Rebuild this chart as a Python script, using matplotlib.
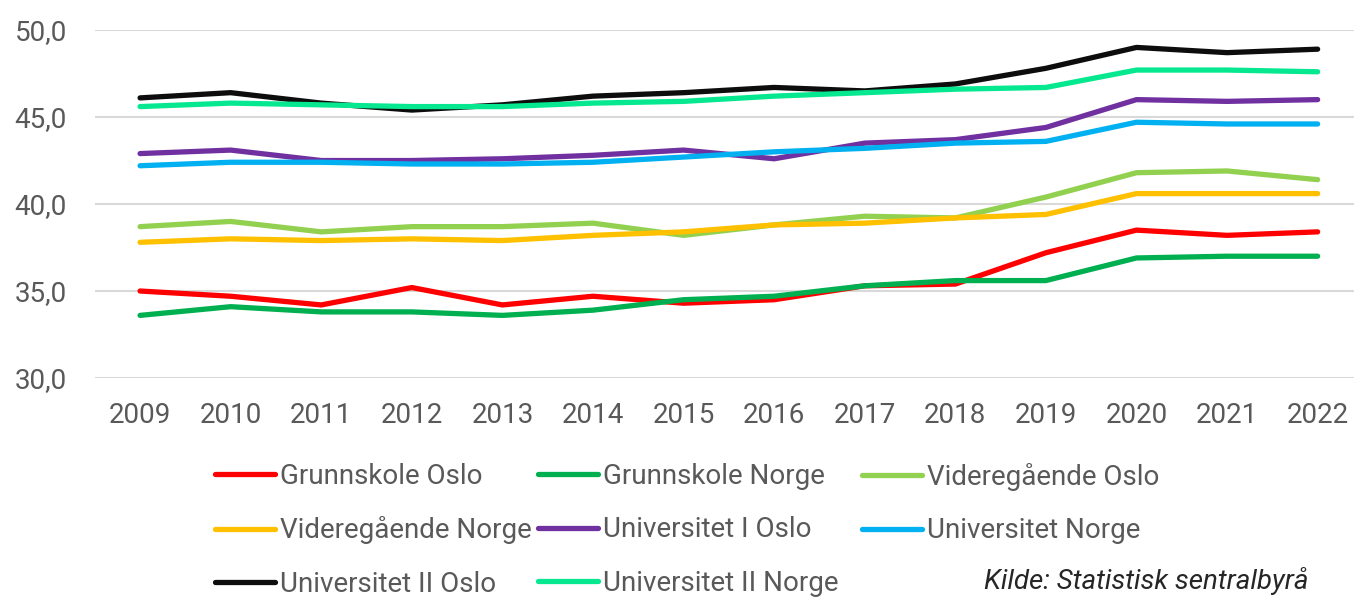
import matplotlib
matplotlib.use('Agg')
import matplotlib.pyplot as plt
from matplotlib.ticker import FuncFormatter

# Data
years = [2009, 2010, 2011, 2012, 2013, 2014, 2015, 2016, 2017, 2018, 2019, 2020, 2021, 2022]
grunnskole_oslo = [35.0, 34.7, 34.2, 35.2, 34.2, 34.7, 34.3, 34.5, 35.3, 35.4, 37.2, 38.5, 38.2, 38.4]
grunnskole_norge = [33.6, 34.1, 33.8, 33.8, 33.6, 33.9, 34.5, 34.7, 35.3, 35.6, 35.6, 36.9, 37.0, 37.0]
vgs_oslo = [38.7, 39.0, 38.4, 38.7, 38.7, 38.9, 38.2, 38.8, 39.3, 39.2, 40.4, 41.8, 41.9, 41.4]
vgs_norge = [37.8, 38.0, 37.9, 38.0, 37.9, 38.2, 38.4, 38.8, 38.9, 39.2, 39.4, 40.6, 40.6, 40.6]
univ1_oslo = [42.9, 43.1, 42.5, 42.5, 42.6, 42.8, 43.1, 42.6, 43.5, 43.7, 44.4, 46.0, 45.9, 46.0]
univ_norge = [42.2, 42.4, 42.4, 42.3, 42.3, 42.4, 42.7, 43.0, 43.2, 43.5, 43.6, 44.7, 44.6, 44.6]
univ2_oslo = [46.1, 46.4, 45.8, 45.4, 45.7, 46.2, 46.4, 46.7, 46.5, 46.9, 47.8, 49.0, 48.7, 48.9]
univ2_norge = [45.6, 45.8, 45.7, 45.6, 45.6, 45.8, 45.9, 46.2, 46.4, 46.6, 46.7, 47.7, 47.7, 47.6]

series = [
    ('Grunnskole Oslo', grunnskole_oslo, '#FF0000'),
    ('Grunnskole Norge', grunnskole_norge, '#00B050'),
    ('Videregående Oslo', vgs_oslo, '#92D050'),
    ('Videregående Norge', vgs_norge, '#FFC000'),
    ('Universitet I Oslo', univ1_oslo, '#7030A0'),
    ('Universitet Norge', univ_norge, '#00B0F0'),
    ('Universitet II Oslo', univ2_oslo, '#0D0D0D'),
    ('Universitet II Norge', univ2_norge, '#06E890'),
]

plt.rcParams['font.family'] = ['Roboto', 'DejaVu Sans']
grey = '#595959'

fig = plt.figure(figsize=(13.54, 5.97), dpi=100)
ax = fig.add_axes([0.07, 0.3668, 0.9366, 0.5829])

x = list(range(len(years)))
handles = {}
for name, vals, col in series:
    ln, = ax.plot(x, vals, color=col, lw=3.8, solid_capstyle='round',
                  solid_joinstyle='round', label=name)
    handles[name] = ln

ax.set_ylim(30, 50)
ax.set_xlim(-0.5, len(years) - 0.5)
ax.set_yticks([30, 35, 40, 45, 50])
ax.yaxis.set_major_formatter(FuncFormatter(lambda v, p: f'{v:.1f}'.replace('.', ',')))
ax.set_xticks(x)
ax.set_xticklabels([str(y) for y in years])
ax.grid(axis='y', color='#D9D9D9', lw=1.5)
ax.set_axisbelow(True)
for s in ax.spines.values():
    s.set_visible(False)
ax.tick_params(length=0, labelsize=20, colors=grey)
ax.tick_params(axis='x', pad=17)
ax.tick_params(axis='y', pad=20)

# legend: three equal-width columns, filled row by row
columns = [
    ['Grunnskole Oslo', 'Videregående Norge', 'Universitet II Oslo'],
    ['Grunnskole Norge', 'Universitet I Oslo', 'Universitet II Norge'],
    ['Videregående Oslo', 'Universitet Norge'],
]
col_x = [0.1588, 0.3974, 0.6366]
for names, cx in zip(columns, col_x):
    leg = fig.legend([handles[n] for n in names], names, loc='upper left',
                     bbox_to_anchor=(cx, 0.2245), frameon=False, fontsize=20,
                     handlelength=2.16, handletextpad=0.18, labelspacing=0.95,
                     borderaxespad=0, borderpad=0)
    for t in leg.get_texts():
        t.set_color(grey)

fig.text(0.727, 0.004, 'Kilde: Statistisk sentralbyrå', fontsize=20,
         style='italic', color='#262626', va='bottom', ha='left')

fig.savefig('out.png', dpi=100)
